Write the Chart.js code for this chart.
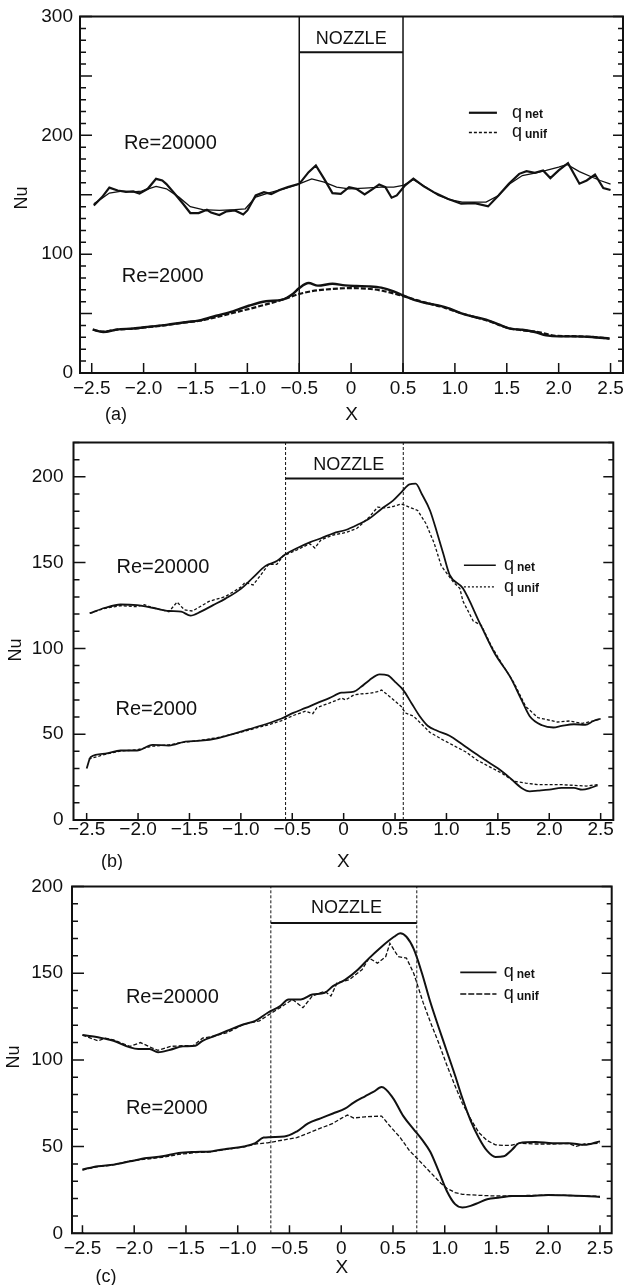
<!DOCTYPE html>
<html>
<head>
<meta charset="utf-8">
<title>Nu vs X</title>
<script src="https://cdn.jsdelivr.net/npm/chart.js@4.4.1/dist/chart.umd.min.js"></script>
<style>
  body { margin: 0; background: #fff; }
  #wrap { position: relative; width: 636px; height: 1285px; overflow: hidden; }
  canvas { position: absolute; left: 0; }
</style>
</head>
<body>
<div id="wrap">
  <canvas id="panelA" width="636" height="425" style="top:0px"></canvas>
  <canvas id="panelB" width="636" height="447" style="top:423px"></canvas>
  <canvas id="panelC" width="636" height="417" style="top:868px"></canvas>
</div>
<script>
const fontFamily = "'Liberation Sans', Arial, Helvetica, sans-serif";
const ink = "#111";

const xTickVals = [-2.5, -2, -1.5, -1, -0.5, 0, 0.5, 1, 1.5, 2, 2.5];
const yTicksA = [0, 100, 200, 300];
const yTicksBC = [0, 50, 100, 150, 200];

const nozzleA = [-0.5, 0.5];
const nozzleB = [-0.565, 0.58];
const nozzleC = [-0.68, 0.73];
const nozzleBarA = 270;
const nozzleBarB = 199;
const nozzleBarC = 179;

// (a)
const xA20net = [-2.48,-2.40,-2.33,-2.25,-2.17,-2.10,-2.04,-1.96,-1.88,-1.82,-1.78,-1.70,-1.62,-1.55,-1.47,-1.39,-1.35,-1.27,-1.20,-1.12,-1.04,-1.00,-0.92,-0.84,-0.77,-0.69,-0.61,-0.50,-0.41,-0.34,-0.26,-0.18,-0.10,-0.02,0.05,0.13,0.21,0.27,0.33,0.39,0.44,0.52,0.60,0.70,0.80,0.93,1.06,1.19,1.32,1.42,1.52,1.62,1.69,1.77,1.85,1.92,2.00,2.09,2.20,2.27,2.35,2.43,2.50];
const yA20net = [141,148,156,153.6,152.5,152.8,151,155,163.4,162,159,150.8,142.4,134.6,134.6,137.4,135,133,136,136.8,133.4,136.8,149.4,152.2,150.5,154,156.4,159.2,169,174.7,163.4,151.4,150.8,156.4,155,150.3,155,158.7,156.4,147.5,149.4,157.9,163.5,157,152,146.6,142.5,143,140.2,149.4,159.3,167.6,169.9,168.5,170.5,164,170.5,176.6,159.3,162,167,155.6,154];
const xA20unif = [-2.48,-2.40,-2.33,-2.21,-2.10,-2.02,-1.88,-1.78,-1.66,-1.55,-1.43,-1.27,-1.12,-1.02,-0.92,-0.80,-0.65,-0.50,-0.38,-0.26,-0.14,-0.02,0.13,0.29,0.41,0.50,0.60,0.72,0.84,0.95,1.07,1.19,1.30,1.42,1.53,1.65,1.77,1.88,2.00,2.08,2.20,2.33,2.40,2.50];
const yA20unif = [142.4,147,151.4,153,152.5,153,157,155,148,140,137.4,136.8,137.4,138.2,148,151.4,155,159.2,163.4,160.6,156.4,155,155.6,156.4,156.4,157.8,162.6,156.4,149.4,145.8,143.8,143.8,143.8,149.4,159.2,166.2,168.2,170.5,173.3,175.5,169.5,164.5,162,158.9];
const xA2net = [-2.49,-2.39,-2.26,-2.10,-1.94,-1.78,-1.62,-1.46,-1.30,-1.14,-0.98,-0.82,-0.66,-0.57,-0.50,-0.41,-0.32,-0.18,-0.06,0.05,0.17,0.29,0.41,0.50,0.60,0.72,0.84,0.95,1.07,1.19,1.30,1.42,1.53,1.65,1.77,1.88,2.00,2.16,2.32,2.49];
const yA2net = [36.5,34.5,36.5,37.5,39,40.5,42.5,44.3,48.2,51.9,56.8,60.4,61.8,66,71.5,75.7,73.5,75.1,73.7,73.2,72.9,71.8,68.7,65.3,61.7,58.9,56.9,54.1,49.9,47.1,44.9,40.9,37.3,36.4,34.5,31.7,30.8,30.8,30.3,28.9];
const xA2unif = [-2.49,-2.39,-2.26,-2.10,-1.94,-1.78,-1.62,-1.46,-1.30,-1.14,-0.98,-0.82,-0.66,-0.50,-0.38,-0.20,0.00,0.15,0.30,0.45,0.60,0.75,0.90,1.05,1.20,1.35,1.50,1.65,1.80,1.95,2.10,2.30,2.49];
const yA2unif = [36.5,34.8,36.5,37.3,38.8,40.3,42.3,44,47,50.5,54,57.7,61.8,66.5,68.8,70.6,71.4,71,69.2,66,62.2,58.4,55,50.5,46.9,43,38.2,36,34.5,31.5,31,30.5,29];

// (b)
const xB20net = [-2.47,-2.32,-2.17,-2.01,-1.86,-1.70,-1.58,-1.49,-1.39,-1.27,-1.15,-1.00,-0.88,-0.76,-0.65,-0.57,-0.45,-0.33,-0.22,-0.10,0.02,0.13,0.25,0.37,0.48,0.56,0.64,0.70,0.76,0.84,0.91,0.97,1.03,1.16,1.33,1.47,1.62,1.73,1.81,1.93,2.04,2.12,2.24,2.35,2.43,2.50];
const yB20net = [120.5,123.7,125.6,125.2,123.7,121.8,121.4,119.1,121.4,125.2,129,134.7,141.4,148.1,150.9,154.7,158.5,161.8,164.2,167.1,169,171.9,175.7,181.4,186.1,190.9,195.6,196,190,180.4,167.1,155,143,135,114,97,83.4,70,60.5,55.2,53.9,54.8,55.8,55.5,57.7,59];
const xB20unif = [-2.47,-2.32,-2.17,-2.01,-1.94,-1.86,-1.70,-1.62,-1.55,-1.47,-1.39,-1.31,-1.15,-1.00,-0.96,-0.88,-0.80,-0.73,-0.65,-0.59,-0.51,-0.45,-0.33,-0.28,-0.22,-0.10,0.02,0.13,0.25,0.33,0.41,0.48,0.56,0.64,0.72,0.80,0.88,0.95,1.07,1.13,1.16,1.26,1.34,1.44,1.54,1.66,1.77,1.89,1.97,2.08,2.20,2.32,2.43,2.50];
const yB20unif = [120.5,123.4,124.9,124.3,125.5,123.7,121.4,127,122.5,121.8,124.6,127.4,130.2,135.7,138.5,137,143.3,149,149,153.8,156,157.5,161,158.5,163.3,166.1,167.5,170,176.6,182.3,181.9,182.7,184.2,182.3,180.4,172.8,161.4,148,138.5,135,127.6,116,113.4,101,91,79.6,66.2,59.6,58.6,57.1,57.7,56.3,57.7,59];
const xB2net = [-2.50,-2.46,-2.32,-2.17,-2.01,-1.86,-1.70,-1.54,-1.39,-1.23,-1.08,-0.92,-0.76,-0.61,-0.49,-0.37,-0.26,-0.14,-0.02,0.10,0.17,0.25,0.35,0.43,0.50,0.58,0.66,0.74,0.82,0.91,1.03,1.15,1.26,1.38,1.50,1.62,1.73,1.81,1.89,2.00,2.12,2.24,2.32,2.40,2.47];
const yB2net = [30,36.7,38.6,40.5,40.5,43.8,43.4,45.7,46.2,47.6,50.1,52.9,55.8,59,62.4,65.3,68.1,71,74.2,74.8,77.6,81.5,84.9,84.3,80.5,75.7,68.1,60.5,54.8,52,49.1,44.3,39.6,34.8,30.1,24.4,18.7,16.7,17.1,17.7,18.7,18.7,17.7,18.7,20.2];
const xB2unif = [-2.48,-2.32,-2.17,-2.01,-1.86,-1.70,-1.54,-1.39,-1.23,-1.08,-0.92,-0.76,-0.61,-0.49,-0.37,-0.30,-0.26,-0.14,-0.02,0.02,0.10,0.17,0.25,0.33,0.37,0.44,0.56,0.60,0.68,0.76,0.84,0.95,1.07,1.19,1.30,1.42,1.54,1.66,1.77,1.89,2.00,2.12,2.24,2.36,2.47];
const yB2unif = [35.5,38.3,40.2,40.9,43,43.8,45.4,46.5,48,50,52.5,55,57.7,60.9,63.4,62,65.5,68.1,71,70,72.9,73.5,73.8,74.8,75.7,72.3,66.2,62.4,60.5,55.8,51,47.2,43.4,39.6,34.8,31,27.2,22.5,21.5,20.6,20.6,20.6,20.2,19.8,20.6];

// (c)
const xC20net = [-2.50,-2.35,-2.20,-2.04,-1.96,-1.85,-1.77,-1.65,-1.53,-1.41,-1.34,-1.22,-1.10,-0.94,-0.83,-0.71,-0.59,-0.51,-0.39,-0.28,-0.16,-0.08,0.04,0.16,0.27,0.39,0.51,0.57,0.63,0.70,0.78,0.86,0.94,1.02,1.10,1.17,1.25,1.33,1.41,1.49,1.57,1.65,1.72,1.88,2.04,2.20,2.35,2.50];
const yC20net = [114.3,113,111,107.2,106.3,106.3,104.4,105.9,107.8,108.2,111,113.9,116.8,120.6,122.5,127.2,131,134.9,134.9,137.7,138.7,142.5,146.3,152,158.7,165.3,171,173,171,164,150,133.5,119,105,91,78,65,55,47.5,44,44.4,48.2,52,52.6,52,52,51,53];
const xC20unif = [-2.50,-2.35,-2.28,-2.20,-2.04,-1.94,-1.85,-1.77,-1.65,-1.53,-1.43,-1.34,-1.22,-1.10,-0.94,-0.79,-0.71,-0.59,-0.47,-0.37,-0.28,-0.16,-0.10,-0.04,0.08,0.20,0.27,0.35,0.43,0.47,0.55,0.63,0.70,0.79,0.86,0.94,1.02,1.10,1.17,1.25,1.33,1.41,1.49,1.57,1.65,1.72,1.88,2.04,2.20,2.27,2.35,2.50];
const yC20unif = [114.3,111,112.5,111.5,107.8,110,107.5,105.5,107.8,108.2,108.2,112.5,113.9,115.8,120.6,122.5,125.7,130.1,134.9,130.1,136.8,139.6,136.8,144.4,146.3,152,158.7,155.8,159.6,167.2,159.6,158.7,150,133.3,122,110,97,85,75,66,58,53.5,51,50.7,50.8,52,51.5,51.5,51.8,50.1,51.5,52];
const xC2net = [-2.50,-2.35,-2.20,-2.04,-1.88,-1.73,-1.57,-1.41,-1.26,-1.10,-0.94,-0.83,-0.75,-0.55,-0.43,-0.32,-0.20,-0.08,0.04,0.12,0.23,0.31,0.39,0.50,0.60,0.70,0.79,0.86,0.94,1.02,1.10,1.17,1.25,1.33,1.41,1.53,1.65,1.80,2.00,2.20,2.35,2.50];
const yC2net = [36.8,38.7,39.6,41.5,43.4,44.4,46.3,46.9,47.2,48.8,50.1,52,55.2,55.8,58.7,63.4,66.3,69.1,72,75.4,79,81.5,84.3,78,67.6,60,53.3,47,36,24.4,16.8,14.9,15.8,17.7,19.6,20.6,21.5,21.5,22.1,21.8,21.5,21];
const xC2unif = [-2.50,-2.35,-2.20,-2.04,-1.88,-1.73,-1.57,-1.41,-1.26,-1.10,-0.94,-0.83,-0.71,-0.55,-0.43,-0.32,-0.20,-0.08,0.00,0.06,0.12,0.23,0.39,0.47,0.57,0.66,0.72,0.80,0.88,0.96,1.02,1.10,1.17,1.33,1.50,1.80,2.00,2.30,2.50];
const yC2unif = [36.5,38.5,39.4,41.8,42.8,43.8,45.5,46.5,47,48.5,49.8,51.5,52.2,53.9,55.2,57.7,60.6,63.4,66.3,68.2,66.5,67.2,67.6,61.9,55.2,47.6,44,39,34,29,26,23.5,22.5,21.9,21.5,21.8,22,21.7,21.3];

const pts = (xs, ys) => xs.map((x, i) => ({ x: x, y: ys[i] }));
const fmtX = (v) => (v === 0 ? "0" : (v < 0 ? "\u2212" : "") + Math.abs(v).toFixed(1));

const panels = [
  {
    id: "panelA", tag: "(a)", xMin: -2.613, xMax: 2.62, yMax: 300, yTicks: yTicksA,
    pad: { top: 16, right: 13 }, yAxisW: 80, xAxisH: 52,
    yLabelPad: 7, xLabelPad: 6.5, xTitlePad: 0.5,
    nu: [22, 198], tagPos: [116, 415],
    nozzle: nozzleA, nozzleBar: nozzleBarA, nozzleDash: [], nozzleWidth: 1.5, nozzleText: [0, 281],
    reText: [[-2.19, 193.4], [-2.21, 81.3]],
    legend: { x1: 1.135, x2: 1.405, tx: 1.55, y: [219, 202.4],
      net: { width: 2.2, dash: [] }, unif: { width: 1.3, dash: [3, 2] } },
    tickLen: { major: 12, minor: 6, rMajor: 10, rMinor: 5, bottom: 10 },
    series: [
      { x: xA20net, y: yA20net, width: 2.2, dash: [], smooth: false },
      { x: xA20unif, y: yA20unif, width: 1.3, dash: [], smooth: false },
      { x: xA2net, y: yA2net, width: 2.4, dash: [], smooth: true },
      { x: xA2unif, y: yA2unif, width: 2.2, dash: [5, 2], smooth: true },
    ],
  },
  {
    id: "panelB", tag: "(b)", xMin: -2.628, xMax: 2.623, yMax: 220, yTicks: yTicksBC,
    pad: { top: 10.3, right: 22.7 }, yAxisW: 73.5, xAxisH: 50,
    yLabelPad: 10, xLabelPad: 0.5, xTitlePad: -1.5,
    nu: [16, 227], tagPos: [112, 439],
    nozzle: nozzleB, nozzleBar: nozzleBarB, nozzleDash: [3, 2], nozzleWidth: 1, nozzleText: [0.05, 207],
    reText: [[-2.21, 147], [-2.22, 64.2]],
    legend: { x1: 1.17, x2: 1.48, tx: 1.56, y: [148.4, 135.9],
      net: { width: 1.5, dash: [] }, unif: { width: 1.3, dash: [2, 2] } },
    tickLen: { major: 12, minor: 6, rMajor: 10, rMinor: 5, bottom: 7 },
    series: [
      { x: xB20net, y: yB20net, width: 1.8, dash: [], smooth: true },
      { x: xB20unif, y: yB20unif, width: 1.3, dash: [3, 2], smooth: false },
      { x: xB2net, y: yB2net, width: 1.8, dash: [], smooth: true },
      { x: xB2unif, y: yB2unif, width: 1.3, dash: [3, 2], smooth: false },
    ],
  },
  {
    id: "panelC", tag: "(c)", xMin: -2.601, xMax: 2.613, yMax: 200, yTicks: yTicksBC,
    pad: { top: 13, right: 24.3 }, yAxisW: 72, xAxisH: 51.7,
    yLabelPad: 9, xLabelPad: 5.7, xTitlePad: 7.5,
    nu: [14, 189], tagPos: [106, 409],
    nozzle: nozzleC, nozzleBar: nozzleBarC, nozzleDash: [3, 2], nozzleWidth: 1, nozzleText: [0.05, 187.6],
    reText: [[-2.08, 135.9], [-2.08, 71.9]],
    legend: { x1: 1.15, x2: 1.5, tx: 1.57, y: [150.5, 138],
      net: { width: 1.6, dash: [] }, unif: { width: 1.3, dash: [6, 2] } },
    tickLen: { major: 12, minor: 6, rMajor: 10, rMinor: 5, bottom: 8 },
    series: [
      { x: xC20net, y: yC20net, width: 2, dash: [], smooth: true },
      { x: xC20unif, y: yC20unif, width: 1.3, dash: [4, 2], smooth: false },
      { x: xC2net, y: yC2net, width: 2, dash: [], smooth: true },
      { x: xC2unif, y: yC2unif, width: 1.3, dash: [4, 2], smooth: false },
    ],
  },
];

function decor(p) {
  return {
    id: `decor${p.id}`,
    afterDraw(chart) {
      const { ctx, chartArea: a } = chart;
      const xs = chart.scales.x;
      const ys = chart.scales.y;
      const t = p.tickLen;
      ctx.save();
      ctx.strokeStyle = ink;
      ctx.fillStyle = ink;
      ctx.setLineDash([]);

      // inner ticks on left, right and bottom
      ctx.lineWidth = 1.5;
      ctx.beginPath();
      for (let v = 0; v <= p.yMax; v += 10) {
        const py = ys.getPixelForValue(v);
        const major = v % 50 === 0;
        ctx.moveTo(a.left, py);
        ctx.lineTo(a.left + (major ? t.major : t.minor), py);
        ctx.moveTo(a.right, py);
        ctx.lineTo(a.right - (major ? t.rMajor : t.rMinor), py);
      }
      xTickVals.forEach((v) => {
        const px = xs.getPixelForValue(v);
        ctx.moveTo(px, a.bottom);
        ctx.lineTo(px, a.bottom - t.bottom);
      });
      ctx.stroke();

      ctx.lineWidth = 2;
      ctx.strokeRect(a.left, a.top, a.right - a.left, a.bottom - a.top);

      // labels inside the plot
      ctx.textBaseline = "middle";
      ctx.textAlign = "left";
      ctx.font = `20px ${fontFamily}`;
      ["Re=20000", "Re=2000"].forEach((txt, i) => {
        const [vx, vy] = p.reText[i];
        ctx.fillText(txt, xs.getPixelForValue(vx), ys.getPixelForValue(vy));
      });
      ctx.textAlign = "center";
      ctx.font = `18px ${fontFamily}`;
      ctx.fillText("NOZZLE", xs.getPixelForValue(p.nozzleText[0]), ys.getPixelForValue(p.nozzleText[1]));

      // legend
      const lg = p.legend;
      [["net", lg.net], ["unif", lg.unif]].forEach(([sub, st], i) => {
        const ly = ys.getPixelForValue(lg.y[i]);
        ctx.lineWidth = st.width;
        ctx.setLineDash(st.dash);
        ctx.beginPath();
        ctx.moveTo(xs.getPixelForValue(lg.x1), ly);
        ctx.lineTo(xs.getPixelForValue(lg.x2), ly);
        ctx.stroke();
        ctx.setLineDash([]);
        const tx = xs.getPixelForValue(lg.tx);
        ctx.textAlign = "left";
        ctx.textBaseline = "alphabetic";
        ctx.font = `18px ${fontFamily}`;
        ctx.fillText("q", tx, ly + 5);
        const qw = ctx.measureText("q").width;
        ctx.font = `bold 12px ${fontFamily}`;
        ctx.fillText(sub, tx + qw + 3, ly + 5.5);
      });

      // axis name and panel tag
      ctx.textAlign = "center";
      ctx.textBaseline = "middle";
      ctx.font = `18px ${fontFamily}`;
      ctx.fillText(p.tag, p.tagPos[0], p.tagPos[1]);
      ctx.translate(p.nu[0], p.nu[1]);
      ctx.rotate(-Math.PI / 2);
      ctx.fillText("Nu", 0, 0);
      ctx.restore();
    },
  };
}

function makeChart(p) {
  const datasets = p.series.map((s) => ({
    data: pts(s.x, s.y),
    borderColor: ink,
    borderWidth: s.width,
    borderDash: s.dash,
    pointRadius: 0,
    showLine: true,
    fill: false,
    tension: 0,
    cubicInterpolationMode: s.smooth ? "monotone" : "default",
  }));
  p.nozzle.forEach((nx) => {
    datasets.push({
      data: [{ x: nx, y: 0 }, { x: nx, y: p.yMax }],
      borderColor: ink,
      borderWidth: p.nozzleWidth,
      borderDash: p.nozzleDash,
      pointRadius: 0,
      showLine: true,
    });
  });
  datasets.push({
    data: p.nozzle.map((nx) => ({ x: nx, y: p.nozzleBar })),
    borderColor: ink,
    borderWidth: 2,
    pointRadius: 0,
    showLine: true,
  });

  const tickFont = { family: fontFamily, size: 19, lineHeight: 1 };

  return new Chart(document.getElementById(p.id), {
    type: "scatter",
    data: { datasets: datasets },
    options: {
      responsive: false,
      animation: false,
      devicePixelRatio: 1,
      layout: { padding: { top: p.pad.top, right: p.pad.right, left: 0, bottom: 0 }, autoPadding: false },
      plugins: { legend: { display: false }, tooltip: { enabled: false } },
      scales: {
        x: {
          type: "linear",
          min: p.xMin,
          max: p.xMax,
          grid: { display: false, drawTicks: false },
          border: { display: false },
          afterBuildTicks: (s) => { s.ticks = xTickVals.map((v) => ({ value: v })); },
          afterFit: (s) => { s.height = p.xAxisH; },
          ticks: { autoSkip: false, maxRotation: 0, padding: p.xLabelPad, color: ink, font: tickFont, callback: (v) => fmtX(v) },
          title: { display: true, text: "X", color: ink, font: { family: fontFamily, size: 19, lineHeight: 1 }, padding: { top: 0, bottom: p.xTitlePad } },
        },
        y: {
          type: "linear",
          min: 0,
          max: p.yMax,
          grid: { display: false, drawTicks: false },
          border: { display: false },
          afterBuildTicks: (s) => { s.ticks = p.yTicks.map((v) => ({ value: v })); },
          afterFit: (s) => { s.width = p.yAxisW; },
          ticks: { autoSkip: false, padding: p.yLabelPad, color: ink, font: tickFont, callback: (v) => String(v) },
        },
      },
    },
    plugins: [decor(p)],
  });
}

panels.forEach(makeChart);
</script>
</body>
</html>
